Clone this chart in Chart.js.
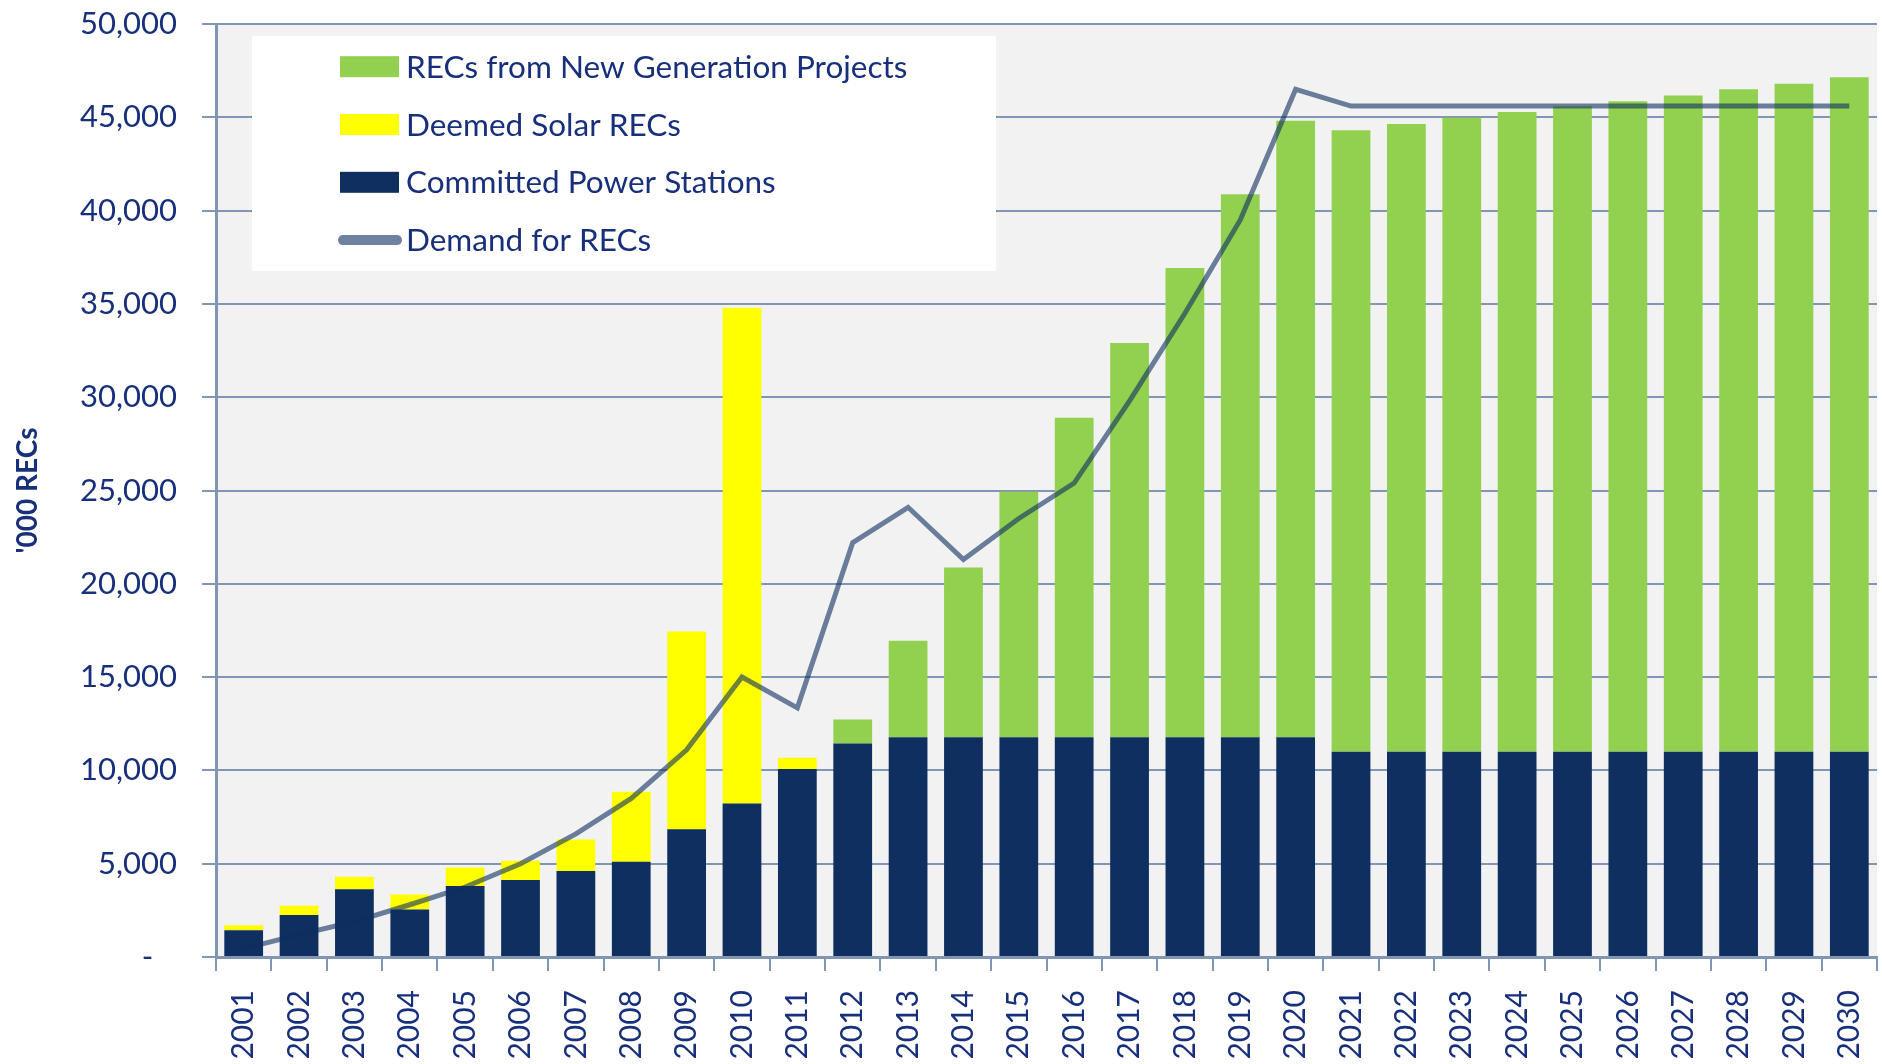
<!DOCTYPE html>
<html>
<head>
<meta charset="utf-8">
<script src="https://cdn.jsdelivr.net/npm/chart.js@4.4.1/dist/chart.umd.min.js"></script>
<style>
  html, body { margin: 0; padding: 0; background: #ffffff; }
  #wrap { width: 1882px; height: 1064px; position: relative; }
</style>
</head>
<body>
<div id="wrap"><canvas id="c" width="1882" height="1064"></canvas></div>
<script>
// ---- Data ('000 RECs) ----
const years = ['2001','2002','2003','2004','2005','2006','2007','2008','2009','2010',
               '2011','2012','2013','2014','2015','2016','2017','2018','2019','2020',
               '2021','2022','2023','2024','2025','2026','2027','2028','2029','2030'];

const committedPowerStations = [1430, 2250, 3630, 2550, 3800, 4120, 4610, 5110, 6840, 8230,
                                10070, 11440, 11780, 11780, 11780, 11780, 11780, 11780, 11780, 11780,
                                11000, 11000, 11000, 11000, 11000, 11000, 11000, 11000, 11000, 11000];

const deemedSolarRECs = [270, 500, 670, 800, 1000, 1040, 1690, 3740, 10600, 26570,
                         610, 0, 0, 0, 0, 0, 0, 0, 0, 0,
                         0, 0, 0, 0, 0, 0, 0, 0, 0, 0];

const newGenerationRECs = [0, 0, 0, 0, 0, 0, 0, 0, 0, 0,
                           0, 1290, 5170, 9100, 13150, 17120, 21120, 25140, 29100, 33030,
                           33300, 33640, 33970, 34280, 34590, 34860, 35170, 35500, 35800, 36150];

const demandForRECs = [450, 1200, 1900, 2800, 3750, 5000, 6600, 8500, 11100, 15000,
                       13350, 22200, 24100, 21300, 23500, 25400, 29800, 34500, 39500, 46500,
                       45600, 45600, 45600, 45600, 45600, 45600, 45600, 45600, 45600, 45600];

const yTickValues = [0, 5000, 10000, 15000, 20000, 25000, 30000, 35000, 40000, 45000, 50000];
const yTickLabels = ['-   ', '5,000', '10,000', '15,000', '20,000', '25,000', '30,000', '35,000', '40,000', '45,000', '50,000'];

const seriesNames = {
  newGen: 'RECs from New Generation Projects',
  solar: 'Deemed Solar RECs',
  committed: 'Committed Power Stations',
  demand: 'Demand for RECs'
};
const yAxisTitle = "'000 RECs";

// ---- Styles ----
const COL_GREEN = '#92D050';
const COL_YELLOW = '#FFFF00';
const COL_NAVY = '#0E2F5F';
const COL_LINE = 'rgba(14,47,95,0.6)';
const COL_AXIS = '#8096B2';
const COL_TEXT = '#18307c';
const FONT = 'Lato';

Chart.defaults.font.family = FONT;

const bgPlugin = {
  id: 'bgPlugin',
  beforeDraw(chart) {
    const { ctx, chartArea: a, width, height } = chart;
    ctx.save();
    ctx.fillStyle = '#ffffff';
    ctx.fillRect(0, 0, width, height);
    ctx.fillStyle = '#F2F2F2';
    ctx.fillRect(a.left, a.top, a.right - a.left, a.bottom - a.top);
    ctx.restore();
  }
};

const legendPlugin = {
  id: 'boxLegend',
  afterDraw(chart) {
    const { ctx } = chart;
    const ds = chart.data.datasets;
    const order = [seriesNames.newGen, seriesNames.solar, seriesNames.committed, seriesNames.demand];
    const box = { x: 252, y: 36, w: 744, h: 235 };
    ctx.save();
    ctx.fillStyle = '#ffffff';
    ctx.fillRect(box.x, box.y, box.w, box.h);
    ctx.font = '31.5px ' + FONT;
    ctx.textBaseline = 'alphabetic';
    ctx.textAlign = 'left';
    order.forEach((name, i) => {
      const d = ds.find(x => x.label === name);
      const cy = 66.7 + 57.8 * i;
      if (d.type === 'line') {
        ctx.strokeStyle = '#6E829F';
        ctx.lineWidth = 10;
        ctx.lineCap = 'round';
        ctx.beginPath();
        ctx.moveTo(343, cy);
        ctx.lineTo(397, cy);
        ctx.stroke();
      } else {
        ctx.fillStyle = d.backgroundColor;
        ctx.fillRect(340, cy - 10.5, 59, 21);
      }
      ctx.fillStyle = COL_TEXT;
      ctx.fillText(name, 406, cy + 11);
    });
    ctx.restore();
  }
};

new Chart(document.getElementById('c'), {
  type: 'bar',
  data: {
    labels: years,
    datasets: [
      { type: 'line', label: seriesNames.demand, data: demandForRECs, order: 0,
        borderColor: COL_LINE, backgroundColor: COL_LINE, borderWidth: 5,
        pointRadius: 0, tension: 0, fill: false },
      { label: seriesNames.committed, data: committedPowerStations, order: 1,
        backgroundColor: COL_NAVY, borderWidth: 0 },
      { label: seriesNames.solar, data: deemedSolarRECs, order: 2,
        backgroundColor: COL_YELLOW, borderWidth: 0 },
      { label: seriesNames.newGen, data: newGenerationRECs, order: 3,
        backgroundColor: COL_GREEN, borderWidth: 0 }
    ]
  },
  options: {
    responsive: false,
    animation: false,
    devicePixelRatio: 1,
    layout: { padding: { left: 0, right: 5, top: 24, bottom: 0 } },
    datasets: { bar: { barPercentage: 0.7, categoryPercentage: 1.0 } },
    plugins: { legend: { display: false }, tooltip: { enabled: false } },
    scales: {
      x: {
        stacked: true,
        offset: true,
        grid: { display: true, drawOnChartArea: false, drawTicks: true, tickLength: 14,
                color: COL_AXIS, lineWidth: 2, offset: true },
        border: { display: true, color: COL_AXIS, width: 3 },
        ticks: { color: COL_TEXT, font: { family: FONT, size: 30 }, maxRotation: 90, minRotation: 90,
                 autoSkip: false, padding: 19 },
        afterFit(s) { s.height = 107; s.paddingLeft = 0; s.paddingRight = 0; }
      },
      y: {
        stacked: true,
        min: 0,
        max: 50000,
        grid: { color: COL_AXIS, lineWidth: 2, tickLength: 14, drawTicks: true },
        border: { display: true, color: COL_AXIS, width: 3 },
        ticks: {
          stepSize: 5000, color: COL_TEXT, font: { family: FONT, size: 31 }, padding: 25,
          callback: (v) => { const k = yTickValues.indexOf(v); return k >= 0 ? yTickLabels[k] : ''; }
        },
        title: { display: true, text: yAxisTitle, color: COL_TEXT,
                 font: { family: FONT, size: 28, weight: 'bold' }, padding: { top: 11, bottom: 0 } },
        afterFit(s) { s.width = 216; s.paddingTop = 0; s.paddingBottom = 0; }
      }
    }
  },
  plugins: [bgPlugin, legendPlugin]
});
</script>
</body>
</html>
